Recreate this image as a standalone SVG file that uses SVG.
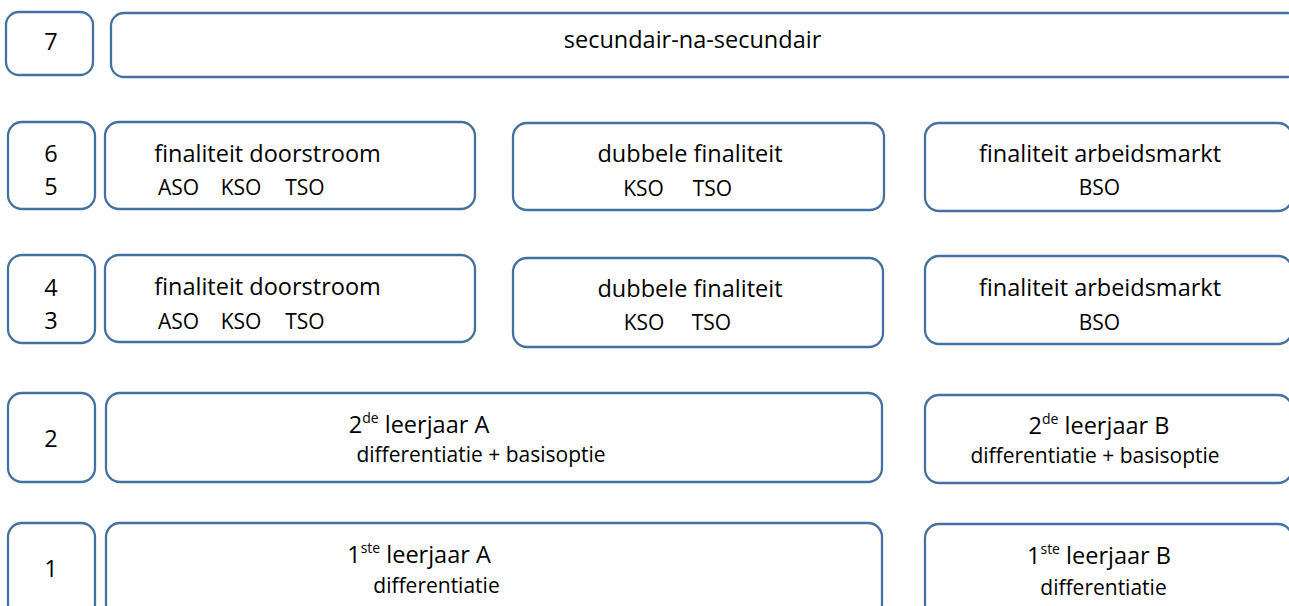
<svg xmlns="http://www.w3.org/2000/svg" width="1289" height="606" viewBox="0 0 1289 606">
<style>
.box{fill:#ffffff;stroke:#4472a0;stroke-width:2.3}
.t{font-family:"Open Sans","DejaVu Sans",sans-serif;fill:#000;text-anchor:middle}
.m{font-size:23.5px}
.s{font-size:21px}
.sup{font-size:14px}
</style>
<rect width="1289" height="606" fill="#ffffff"/>
<g id="row7">
<g id="n7"><rect class="box" x="6" y="12" width="87" height="63" rx="13"/><text class="t m" x="51" y="50">7</text></g>
<g id="secundair-na-secundair"><rect class="box" x="111" y="13" width="1190" height="64" rx="13"/><text class="t m" x="692.5" y="48">secundair-na-secundair</text></g>
</g>
<g id="row65">
<g id="n65"><rect class="box" x="8" y="122" width="87" height="87" rx="14"/><text class="t m" x="51" y="162">6</text><text class="t m" x="51" y="195">5</text></g>
<g id="doorstroom65"><rect class="box" x="105" y="122" width="370" height="87" rx="14"/><text class="t m" x="267.5" y="162">finaliteit doorstroom</text><text class="t s" y="195"><tspan x="178.5">ASO</tspan><tspan x="241">KSO</tspan><tspan x="305">TSO</tspan></text></g>
<g id="dubbel65"><rect class="box" x="513" y="123" width="371" height="87" rx="14"/><text class="t m" x="690" y="162">dubbele finaliteit</text><text class="t s" y="196"><tspan x="643.5">KSO</tspan><tspan x="712.5">TSO</tspan></text></g>
<g id="arbeid65"><rect class="box" x="925" y="123" width="367" height="88" rx="14"/><text class="t m" x="1100" y="162">finaliteit arbeidsmarkt</text><text class="t s" x="1099.5" y="195">BSO</text></g>
</g>
<g id="row43">
<g id="n43"><rect class="box" x="8" y="255" width="87" height="88" rx="14"/><text class="t m" x="51" y="296">4</text><text class="t m" x="51" y="329">3</text></g>
<g id="doorstroom43"><rect class="box" x="105" y="255" width="370" height="87" rx="14"/><text class="t m" x="267.5" y="295">finaliteit doorstroom</text><text class="t s" y="329"><tspan x="178.5">ASO</tspan><tspan x="241">KSO</tspan><tspan x="305">TSO</tspan></text></g>
<g id="dubbel43"><rect class="box" x="513" y="258" width="370" height="89" rx="14"/><text class="t m" x="690" y="297">dubbele finaliteit</text><text class="t s" y="330"><tspan x="644">KSO</tspan><tspan x="711.5">TSO</tspan></text></g>
<g id="arbeid43"><rect class="box" x="925" y="256" width="367" height="88" rx="14"/><text class="t m" x="1100" y="296">finaliteit arbeidsmarkt</text><text class="t s" x="1099.5" y="330">BSO</text></g>
</g>
<g id="row2">
<g id="n2"><rect class="box" x="8" y="393" width="87" height="89" rx="14"/><text class="t m" x="51" y="447">2</text></g>
<g id="leerjaar2A"><rect class="box" x="106" y="393" width="776" height="89" rx="14"/><text class="t m" x="419" y="433">2<tspan class="sup" dy="-10">de</tspan><tspan dy="10"> leerjaar A</tspan></text><text class="t s" x="481" y="462">differentiatie + basisoptie</text></g>
<g id="leerjaar2B"><rect class="box" x="925" y="395" width="367" height="88" rx="14"/><text class="t m" x="1099" y="434">2<tspan class="sup" dy="-10">de</tspan><tspan dy="10"> leerjaar B</tspan></text><text class="t s" x="1095" y="463">differentiatie + basisoptie</text></g>
</g>
<g id="row1">
<g id="n1"><rect class="box" x="8" y="523" width="87" height="95" rx="14"/><text class="t m" x="51" y="577">1</text></g>
<g id="leerjaar1A"><rect class="box" x="106" y="523" width="776" height="95" rx="14"/><text class="t m" x="419" y="563">1<tspan class="sup" dy="-10">ste</tspan><tspan dy="10"> leerjaar A</tspan></text><text class="t s" x="436.5" y="593">differentiatie</text></g>
<g id="leerjaar1B"><rect class="box" x="925" y="524" width="367" height="94" rx="14"/><text class="t m" x="1099" y="564">1<tspan class="sup" dy="-10">ste</tspan><tspan dy="10"> leerjaar B</tspan></text><text class="t s" x="1103.5" y="595">differentiatie</text></g>
</g>
<g id="connectors"></g>
</svg>
